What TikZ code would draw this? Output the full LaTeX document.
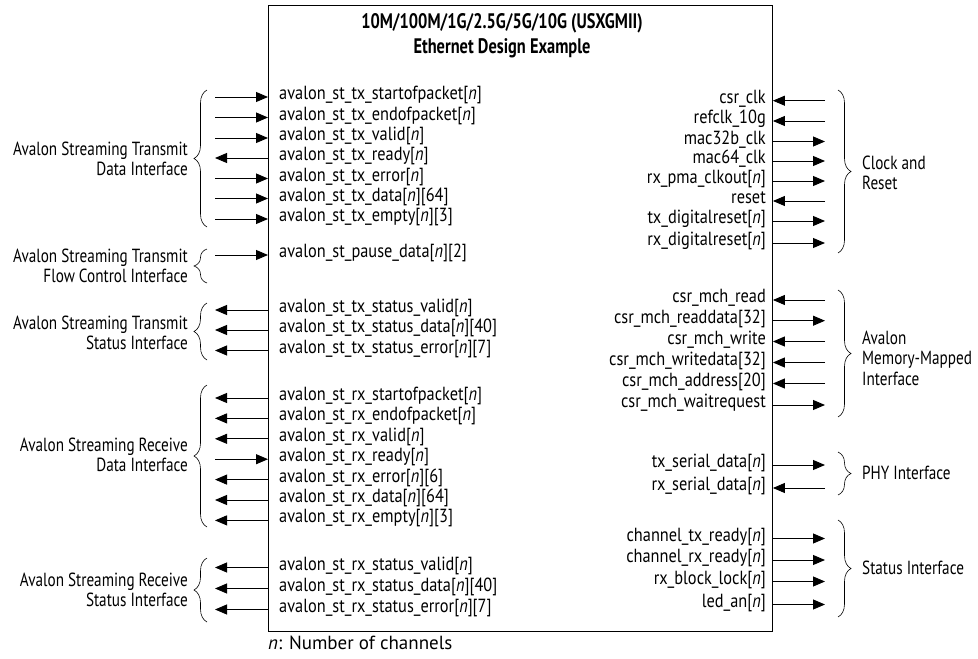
\documentclass[tikz,border=0pt]{standalone}
\usepackage{fontspec}
\setmainfont[FakeStretch=0.86]{PT Sans}
\newfontfamily\labfam[FakeStretch=0.80]{PT Sans}
\newfontfamily\notefam[FakeStretch=1.0]{PT Sans}
\newfontfamily\ttlfam[FakeStretch=0.78]{PT Sans}
\usetikzlibrary{arrows.meta,decorations.pathreplacing}
\newcommand\sigfont{\fontsize{19}{20.5}\selectfont}
\newcommand\labfont{\labfam\fontsize{19}{20.5}\selectfont}
\newcommand\notefont{\notefam\fontsize{19}{20.5}\selectfont}
\newcommand\ttlfont{\ttlfam\fontsize{21}{25}\selectfont\bfseries}
\begin{document}
\begin{tikzpicture}[x=1pt,y=-1pt,
  sig/.style={font=\sigfont, inner sep=0pt},
  lab/.style={font=\labfont, inner sep=0pt},
  arr/.style={line width=0.9pt},
  toin/.style={arr,-{Triangle[length=12pt,width=10pt]}},
  toout/.style={arr,{Triangle[length=12pt,width=10pt]}-},
  brc/.style={line width=0.6pt, decorate, decoration={brace, amplitude=13pt, aspect=0.5}}]
\useasboundingbox (0,0) rectangle (978,659);
\node[draw, line width=0.9pt, minimum width=504pt, minimum height=626pt, anchor=north west, inner sep=0pt] (box) at (268,5) {};
\node[font=\ttlfont, align=center, inner sep=0pt] (title) at (502,36) {10M/100M/1G/2.5G/5G/10G (USXGMII)\\Ethernet Design Example};
% left signals
\foreach [count=\i] \y/\t/\d in {
  97/{avalon\_st\_tx\_startofpacket[\textit{n}]}/toin,
  117.5/{avalon\_st\_tx\_endofpacket[\textit{n}]}/toin,
  138/{avalon\_st\_tx\_valid[\textit{n}]}/toin,
  158/{avalon\_st\_tx\_ready[\textit{n}]}/toout,
  178.5/{avalon\_st\_tx\_error[\textit{n}]}/toin,
  198.5/{avalon\_st\_tx\_data[\textit{n}][64]}/toin,
  219/{avalon\_st\_tx\_empty[\textit{n}][3]}/toin,
  255/{avalon\_st\_pause\_data[\textit{n}][2]}/toin,
  310/{avalon\_st\_tx\_status\_valid[\textit{n}]}/toout,
  330/{avalon\_st\_tx\_status\_data[\textit{n}][40]}/toout,
  350.5/{avalon\_st\_tx\_status\_error[\textit{n}][7]}/toout,
  398/{avalon\_st\_rx\_startofpacket[\textit{n}]}/toout,
  418.4/{avalon\_st\_rx\_endofpacket[\textit{n}]}/toout,
  438.8/{avalon\_st\_rx\_valid[\textit{n}]}/toout,
  459.2/{avalon\_st\_rx\_ready[\textit{n}]}/toin,
  479.6/{avalon\_st\_rx\_error[\textit{n}][6]}/toout,
  500/{avalon\_st\_rx\_data[\textit{n}][64]}/toout,
  520.4/{avalon\_st\_rx\_empty[\textit{n}][3]}/toout,
  567.5/{avalon\_st\_rx\_status\_valid[\textit{n}]}/toout,
  588.5/{avalon\_st\_rx\_status\_data[\textit{n}][40]}/toout,
  609.5/{avalon\_st\_rx\_status\_error[\textit{n}][7]}/toout}{
  \node[sig, anchor=mid west] (L\i) at (279,\y) {\t};
  \coordinate (LA\i) at (215,\y);
  \coordinate (LB\i) at (box.west |- LA\i);
  \draw[\d] (LA\i) -- (LB\i);
}
% right signals
\foreach [count=\i] \y/\t/\d in {
  100.7/{csr\_clk}/toin,
  121/{refclk\_10g}/toin,
  141.5/{mac32b\_clk}/toout,
  161/{mac64\_clk}/toout,
  181/{rx\_pma\_clkout[\textit{n}]}/toout,
  201/{reset}/toin,
  221/{tx\_digitalreset[\textit{n}]}/toout,
  243/{rx\_digitalreset[\textit{n}]}/toout,
  300/{csr\_mch\_read}/toin,
  320.7/{csr\_mch\_readdata[32]}/toout,
  341.5/{csr\_mch\_write}/toin,
  362.5/{csr\_mch\_writedata[32]}/toin,
  383.5/{csr\_mch\_address[20]}/toin,
  405/{csr\_mch\_waitrequest}/toout,
  465/{tx\_serial\_data[\textit{n}]}/toout,
  488/{rx\_serial\_data[\textit{n}]}/toin,
  538.5/{channel\_tx\_ready[\textit{n}]}/toout,
  560/{channel\_rx\_ready[\textit{n}]}/toout,
  581.5/{rx\_block\_lock[\textit{n}]}/toout,
  604.5/{led\_an[\textit{n}]}/toout}{
  \node[sig, anchor=mid east] (R\i) at (766,\y) {\t};
  \coordinate (RA\i) at (825,\y);
  \coordinate (RB\i) at (box.east |- RA\i);
  \draw[\d] (RA\i) -- (RB\i);
}
% left braces and labels
\foreach [count=\i] \a/\b/\c/\t in {
  90/227/159/{Avalon Streaming Transmit\\Data Interface},
  249/283/266/{Avalon Streaming Transmit\\Flow Control Interface},
  303/360/333/{Avalon Streaming Transmit\\Status Interface},
  385/527/455/{Avalon Streaming Receive\\Data Interface},
  558/622/590/{Avalon Streaming Receive\\Status Interface}}{
  \coordinate (LBt\i) at (207,\a);
  \coordinate (LBb\i) at (207,\b);
  \draw[brc] (LBb\i) -- (LBt\i);
  \node[lab, align=right, anchor=east] (LL\i) at (188,\c) {\t};
}
% right braces and labels
\foreach [count=\i] \a/\b/\c/\t in {
  90/253/173/{Clock and\\Reset},
  290/417/358/{Avalon\\Memory-Mapped\\Interface},
  452/495/473/{PHY Interface},
  520/617/568/{Status Interface}}{
  \coordinate (RBt\i) at (838,\a);
  \coordinate (RBb\i) at (838,\b);
  \draw[brc] (RBt\i) -- (RBb\i);
  \node[lab, align=left, anchor=west] (RL\i) at (862,\c) {\t};
}
\node[font=\notefont, inner sep=0pt, anchor=mid west] (note) at (268,647) {\textit{n}: Number of channels};
\end{tikzpicture}
\end{document}
